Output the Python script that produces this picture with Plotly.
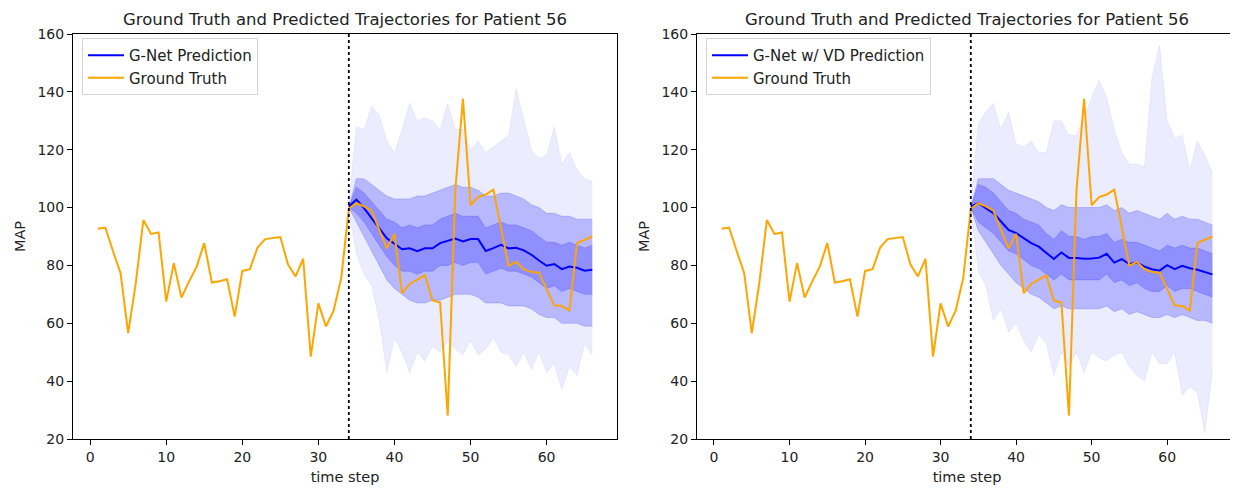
import plotly.graph_objects as go

# ---------------- data ----------------
t_obs = list(range(1, 67))
t_pred = list(range(34, 67))

ground_truth = [92.7, 93.1, 85.0, 77.3, 56.6, 73.9, 95.7, 90.9, 91.4, 67.5, 80.8, 68.9, 74.4, 79.6,
                87.7, 74.1, 74.5, 75.2, 62.3, 78.1, 78.7, 86.2, 89.1, 89.4, 89.8, 80.4, 76.2, 82.3,
                48.5, 66.9, 58.9, 64.4, 75.6,
                99.5, 101.5, 100.4, 98.9, 92.3, 85.9, 90.9, 70.4, 73.6, 75.2, 76.6, 67.9, 67.2, 28.1,
                106.2, 137.6, 100.8, 103.6, 104.5, 106.2, 93.5, 79.9, 81.2, 78.7, 77.7, 77.5, 71.8,
                66.2, 66.0, 64.4, 87.7, 88.9, 90.0]

# G-Net (left panel)
gnet_mean = [100.4, 102.7, 99.8, 96.3, 92.9, 89.4, 87.5, 85.6, 85.9, 84.9, 85.9, 85.9, 87.7, 88.4,
             89.3, 88.3, 89.1, 89.1, 85.0, 86.0, 87.1, 85.9, 86.1, 85.2, 83.7, 81.7, 79.9, 80.5,
             78.7, 79.6, 79.2, 78.2, 78.5]
gnet_max = [101, 128, 127, 135, 132, 123, 119, 127, 136, 130, 131, 130, 127, 136, 127, 127, 120,
            123, 119, 121, 123, 125, 141, 130, 120, 117, 118, 128, 115, 119, 113, 110, 109]
gnet_min = [99, 84, 77, 73, 61, 43, 55, 50, 43, 50, 47, 52, 50, 54, 51, 49, 54, 49, 51, 55, 50,
            49, 45, 50, 44, 50, 43, 46, 37, 45, 42, 53, 49]
gnet_p15 = [100, 95, 90, 85, 80, 75, 72, 70, 68, 67, 67, 68, 68, 69, 70, 70, 70, 69, 67, 67, 67,
            66, 66, 66, 65, 63, 62, 62, 60, 60, 60, 59, 59]
gnet_p85 = [100, 110, 110, 108, 106, 104, 103, 103, 103, 104, 104, 105, 106, 107, 108, 107, 107,
            106, 104, 104, 105, 105, 104, 103, 101, 100, 98, 98, 97, 97, 96, 96, 96]
gnet_p35 = [100, 98, 95, 91, 87, 83, 80, 78, 78, 77, 78, 78, 80, 80, 81, 80, 81, 81, 77, 78, 79,
            78, 78, 77, 76, 74, 72, 73, 71, 72, 71, 70, 70]
gnet_p65 = [100, 107, 105, 102, 99, 96, 95, 93, 94, 93, 94, 94, 96, 97, 98, 97, 97, 97, 93, 94,
            95, 94, 94, 93, 92, 90, 88, 88, 87, 88, 87, 86, 87]

# G-Net w/ VD (right panel)
vd_mean = [100.4, 101.5, 99.8, 98.1, 95.2, 92.3, 91.2, 89.4, 87.7, 86.5, 84.2, 82.2, 84.5, 82.6,
           82.6, 82.3, 82.4, 82.7, 84.0, 81.0, 82.2, 80.5, 81.0, 79.6, 78.7, 78.2, 80.1, 78.7,
           79.9, 79.0, 78.5, 77.8, 76.9]
vd_max = [101, 129, 133, 136, 127, 133, 122, 121, 123, 119, 119, 130, 130, 125, 125, 131, 138,
          144, 138, 127, 119, 115, 115, 114, 145, 156, 130, 124, 125, 113, 123, 118, 112]
vd_min = [99, 78, 73, 61, 65, 57, 60, 54, 50, 56, 53, 42, 50, 45, 50, 43, 50, 48, 47, 49, 50, 45,
          42, 40, 50, 46, 46, 50, 35, 38, 36, 22, 44]
vd_p15 = [100, 92, 88, 84, 80, 77, 74, 72, 70, 69, 67, 65, 66, 65, 65, 65, 65, 65, 66, 64, 65, 63,
          64, 63, 62, 62, 63, 62, 63, 62, 61, 61, 60]
vd_p85 = [100, 110, 110, 110, 108, 106, 105, 104, 103, 102, 100, 99, 101, 100, 100, 100, 100, 100,
          101, 99, 100, 98, 99, 98, 97, 96, 98, 96, 97, 96, 96, 95, 94]
vd_p35 = [100, 95, 93, 91, 88, 85, 84, 82, 80, 79, 77, 75, 77, 75, 75, 75, 75, 75, 77, 74, 75, 73,
          74, 72, 71, 71, 73, 71, 72, 72, 71, 70, 69]
vd_p65 = [100, 108, 107, 105, 102, 99, 98, 96, 95, 94, 91, 89, 92, 90, 90, 89, 90, 90, 91, 88, 89,
          88, 88, 87, 86, 85, 87, 86, 87, 86, 86, 85, 84]

title_text = "Ground Truth and Predicted Trajectories for Patient 56"
x_ticks = [0, 10, 20, 30, 40, 50, 60]
y_ticks = [20, 40, 60, 80, 100, 120, 140, 160]
split_step = 34

# ---------------- figure ----------------
# The page body has an 8px default margin; size the figure so it fills the 1238x488 window.
OFF = 8
W, H = 1238 - OFF, 488 - OFF
fig = go.Figure()

panels = [
    dict(xa="x", ya="y", legend="legend", name="G-Net Prediction",
         mean=gnet_mean, mx=gnet_max, mn=gnet_min, p15=gnet_p15, p85=gnet_p85,
         p35=gnet_p35, p65=gnet_p65),
    dict(xa="x2", ya="y2", legend="legend2", name="G-Net w/ VD Prediction",
         mean=vd_mean, mx=vd_max, mn=vd_min, p15=vd_p15, p85=vd_p85,
         p35=vd_p35, p65=vd_p65),
]

band_alpha = [("mn", "mx", 0.075), ("p15", "p85", 0.22), ("p35", "p65", 0.22)]

for p in panels:
    for lo, hi, a in band_alpha:
        fig.add_trace(go.Scatter(x=t_pred, y=p[lo], mode="lines",
                                 line=dict(width=0.8, color=f"rgba(0,0,255,{a})"),
                                 xaxis=p["xa"], yaxis=p["ya"], showlegend=False, hoverinfo="skip"))
        fig.add_trace(go.Scatter(x=t_pred, y=p[hi], mode="lines",
                                 line=dict(width=0.8, color=f"rgba(0,0,255,{a})"),
                                 fill="tonexty", fillcolor=f"rgba(0,0,255,{a})",
                                 xaxis=p["xa"], yaxis=p["ya"], showlegend=False, hoverinfo="skip"))
    fig.add_trace(go.Scatter(x=t_pred, y=p["mean"], mode="lines", name=p["name"],
                             line=dict(color="#0000FF", width=2), legendrank=1,
                             xaxis=p["xa"], yaxis=p["ya"], legend=p["legend"]))
    fig.add_trace(go.Scatter(x=t_obs, y=ground_truth, mode="lines", name="Ground Truth",
                             line=dict(color="#FFA500", width=2), legendrank=2,
                             xaxis=p["xa"], yaxis=p["ya"], legend=p["legend"]))
    fig.add_shape(type="line", x0=split_step, x1=split_step, y0=0, y1=1,
                  xref=p["xa"], yref=f"{p['ya']} domain",
                  line=dict(color="black", width=1.8, dash="dot"))


def px_x(x):
    return (x - OFF) / W


def px_y(y):
    return (H - (y - OFF)) / H


# axes geometry (window pixels -> paper)
left_dom = [px_x(73), px_x(617)]
right_dom = [px_x(697), px_x(1237)]
y_dom = [px_y(439), px_y(34)]

font = "DejaVu Sans"
txt_col = "#222222"
axis_common = dict(showline=True, linecolor="black", linewidth=1, mirror=True,
                   ticks="outside", ticklen=5, tickwidth=1, tickcolor="black",
                   showgrid=False, zeroline=False, automargin=False,
                   tickfont=dict(family=font, size=14, color=txt_col))
xtitle = dict(text="time step", font=dict(family=font, size=14.5, color=txt_col), standoff=8)
ytitle = dict(text="MAP", font=dict(family=font, size=14.5, color=txt_col), standoff=8)

legend_common = dict(xanchor="left", yanchor="top", traceorder="normal",
                     bgcolor="rgba(255,255,255,0.85)", bordercolor="#d6d6d6", borderwidth=1,
                     font=dict(family=font, size=15, color=txt_col), tracegroupgap=0, itemwidth=36)

fig.update_layout(
    width=W, height=H,
    margin=dict(l=0, r=0, t=0, b=0),
    plot_bgcolor="white", paper_bgcolor="white",
    xaxis=dict(domain=left_dom, range=[-2.25, 69.25], tickvals=x_ticks, anchor="y",
               title=xtitle, **axis_common),
    yaxis=dict(domain=y_dom, range=[20, 160], tickvals=y_ticks, anchor="x",
               title=ytitle, **axis_common),
    xaxis2=dict(domain=right_dom, range=[-2.25, 69.25], tickvals=x_ticks, anchor="y2",
                title=xtitle, **axis_common),
    yaxis2=dict(domain=y_dom, range=[20, 160], tickvals=y_ticks, anchor="x2",
                title=ytitle, **axis_common),
    legend=dict(x=px_x(82), y=px_y(38), **legend_common),
    legend2=dict(x=px_x(706), y=px_y(38), **legend_common),
    annotations=[
        dict(text=title_text, x=(left_dom[0] + left_dom[1]) / 2, y=px_y(19),
             xref="paper", yref="paper", showarrow=False, xanchor="center", yanchor="middle",
             font=dict(family=font, size=16.5, color=txt_col)),
        dict(text=title_text, x=(right_dom[0] + right_dom[1]) / 2, y=px_y(19),
             xref="paper", yref="paper", showarrow=False, xanchor="center", yanchor="middle",
             font=dict(family=font, size=16.5, color=txt_col)),
    ],
)

fig.write_html("out.html")
